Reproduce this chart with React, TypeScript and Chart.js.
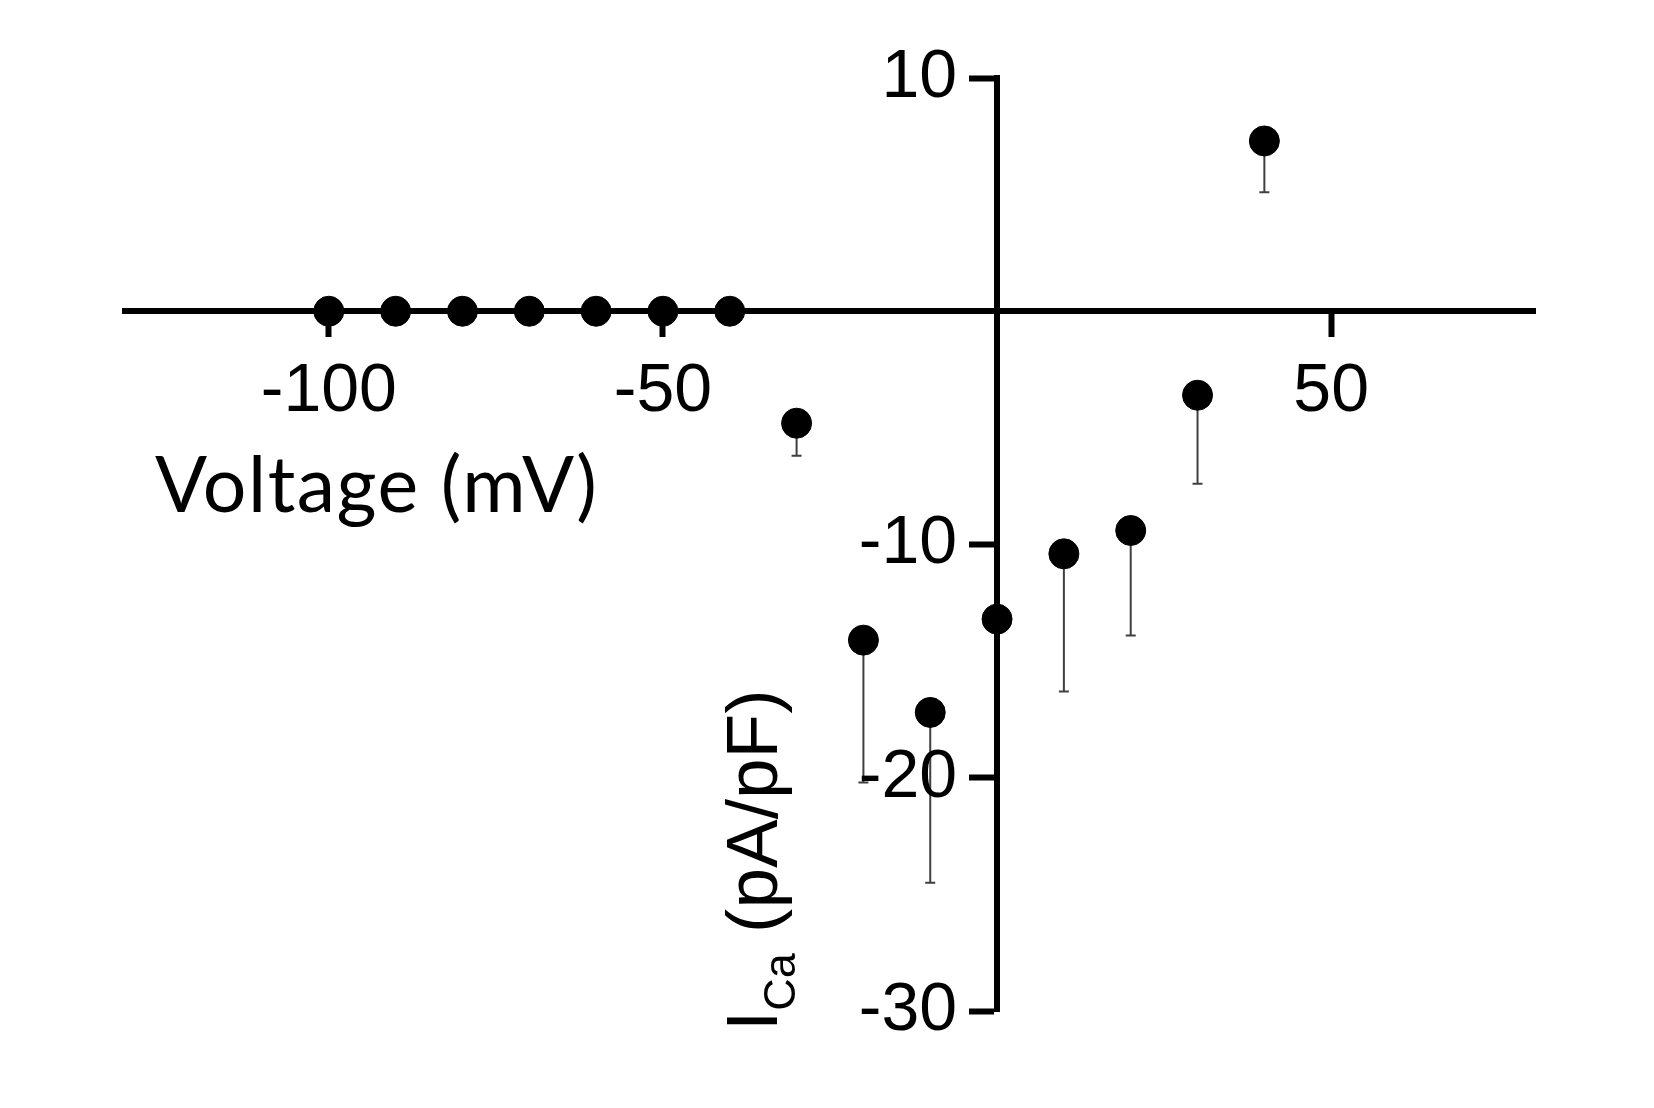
import { useEffect, useRef } from "react";
import { Chart, registerables } from "chart.js";

Chart.register(...registerables);

// ---- data ----
const voltages = [-100, -90, -80, -70, -60, -50, -40, -30, -20, -10, 0, 10, 20, 30, 40];
const currents = [0, 0, 0, 0, 0, 0, 0, -4.8, -14.1, -17.2, -13.2, -10.4, -9.4, -3.6, 7.3];
const sems = [0, 0, 0, 0, 0, 0, 0, 1.4, 6.1, 7.3, 0, 5.9, 4.5, 3.8, 2.2];

const xTicks = [-100, -50, 50];
const xTickLabels = ["-100", "-50", "50"];
const yTicks = [10, -10, -20, -30];
const yTickLabels = ["10", "-10", "-20", "-30"];

const xTitle = "Voltage (mV)";
const yTitleMain = "I";
const yTitleSub = "Ca";
const yTitleRest = " (pA/pF)";

const TICK_FONT = "'Liberation Sans', Arial, sans-serif";
const Y_LABEL_GAP = 40;

// y axis sits at x = 0; move its tick labels clear of the tick marks
const yLabelShiftPlugin = {
  id: "yLabelShift",
  beforeDraw(chart: any) {
    const ys = chart.scales.y;
    const items = ys.getLabelItems(chart.chartArea);
    items.forEach((it: any) => {
      if (!it._shifted && it.options && it.options.translation) {
        it.options.translation[0] -= Y_LABEL_GAP;
        it._shifted = true;
      }
    });
  },
};

const errorBarPlugin = {
  id: "errorBars",
  beforeDatasetsDraw(chart: any) {
    const { ctx, scales } = chart;
    const xs = scales.x;
    const ys = scales.y;
    ctx.save();
    ctx.strokeStyle = "#404040";
    ctx.lineWidth = 2;
    for (let i = 0; i < voltages.length; i++) {
      const s = sems[i];
      if (!s) continue;
      const px = xs.getPixelForValue(voltages[i]);
      const py = ys.getPixelForValue(currents[i]);
      const pe = ys.getPixelForValue(currents[i] - s);
      ctx.beginPath();
      ctx.moveTo(px, py);
      ctx.lineTo(px, pe);
      ctx.moveTo(px - 5, pe);
      ctx.lineTo(px + 5, pe);
      ctx.stroke();
    }
    ctx.restore();
  },
};

const titlesPlugin = {
  id: "titles",
  afterDraw(chart: any) {
    const { ctx } = chart;
    ctx.save();
    ctx.fillStyle = "#000";
    // x title
    ctx.font = "77px Lato, 'Open Sans', sans-serif";
    (ctx as any).letterSpacing = "1.5px";
    ctx.textAlign = "left";
    ctx.textBaseline = "alphabetic";
    ctx.fillText(xTitle, 155, 512);
    (ctx as any).letterSpacing = "0px";
    // y title (rotated, with subscript)
    ctx.translate(777, 1031);
    ctx.rotate(-Math.PI / 2);
    const mainFont = `73px ${TICK_FONT}`;
    const subFont = `45px ${TICK_FONT}`;
    let x = 0;
    ctx.font = mainFont;
    ctx.fillText(yTitleMain, x, 0);
    x += ctx.measureText(yTitleMain).width;
    ctx.font = subFont;
    ctx.fillText(yTitleSub, x, 18);
    x += ctx.measureText(yTitleSub).width;
    ctx.font = mainFont;
    ctx.fillText(yTitleRest, x, 0);
    ctx.restore();
  },
};

export default function App() {
  const ref = useRef<HTMLCanvasElement | null>(null);

  useEffect(() => {
    if (!ref.current) return;
    const chart = new Chart(ref.current, {
      type: "scatter",
      data: {
        datasets: [
          {
            data: voltages.map((v, i) => ({ x: v, y: currents[i] })),
            pointRadius: 15,
            pointHoverRadius: 15,
            pointBackgroundColor: "#000",
            pointBorderColor: "#000",
            pointBorderWidth: 1,
            showLine: false,
          },
        ],
      },
      options: {
        animation: false,
        responsive: false,
        events: [],
        layout: { padding: { left: 125, right: 119, top: 78, bottom: 97 } },
        plugins: {
          legend: { display: false },
          tooltip: { enabled: false },
          title: { display: false },
        },
        scales: {
          x: {
            type: "linear",
            min: -130.5,
            max: 80.5,
            position: { y: 0 } as any,
            afterBuildTicks: (scale: any) => {
              scale.ticks = xTicks.map((v) => ({ value: v }));
            },
            grid: {
              z: 1,
              drawOnChartArea: false,
              drawTicks: true,
              tickLength: 23,
              tickWidth: 6,
              tickColor: "#000",
            },
            border: { z: 1, display: true, color: "#000", width: 6 },
            ticks: {
              z: 1,
              autoSkip: false,
              maxRotation: 0,
              padding: 17,
              color: "#000",
              font: { family: TICK_FONT, size: 68 },
              callback: (value: any) => {
                const k = xTicks.indexOf(Number(value));
                return k >= 0 ? xTickLabels[k] : "";
              },
            },
          },
          y: {
            type: "linear",
            min: -30,
            max: 10,
            position: { x: 0 } as any,
            afterBuildTicks: (scale: any) => {
              scale.ticks = yTicks.map((v) => ({ value: v }));
            },
            grid: {
              z: 1,
              drawOnChartArea: false,
              drawTicks: true,
              tickLength: 25,
              tickWidth: 6,
              tickColor: "#000",
            },
            border: { z: 1, display: true, color: "#000", width: 6 },
            ticks: {
              z: 1,
              autoSkip: false,
              padding: 15,
              color: "#000",
              font: { family: TICK_FONT, size: 68 },
              callback: (value: any) => {
                const k = yTicks.indexOf(Number(value));
                return k >= 0 ? yTickLabels[k] : "";
              },
            },
          },
        },
      },
      plugins: [yLabelShiftPlugin, errorBarPlugin, titlesPlugin],
    });
    return () => chart.destroy();
  }, []);

  return (
    <div style={{ position: "absolute", left: 0, top: 0, width: 1654, height: 1108, background: "#fff" }}>
      <canvas ref={ref} width={1654} height={1108} style={{ display: "block" }} />
    </div>
  );
}
